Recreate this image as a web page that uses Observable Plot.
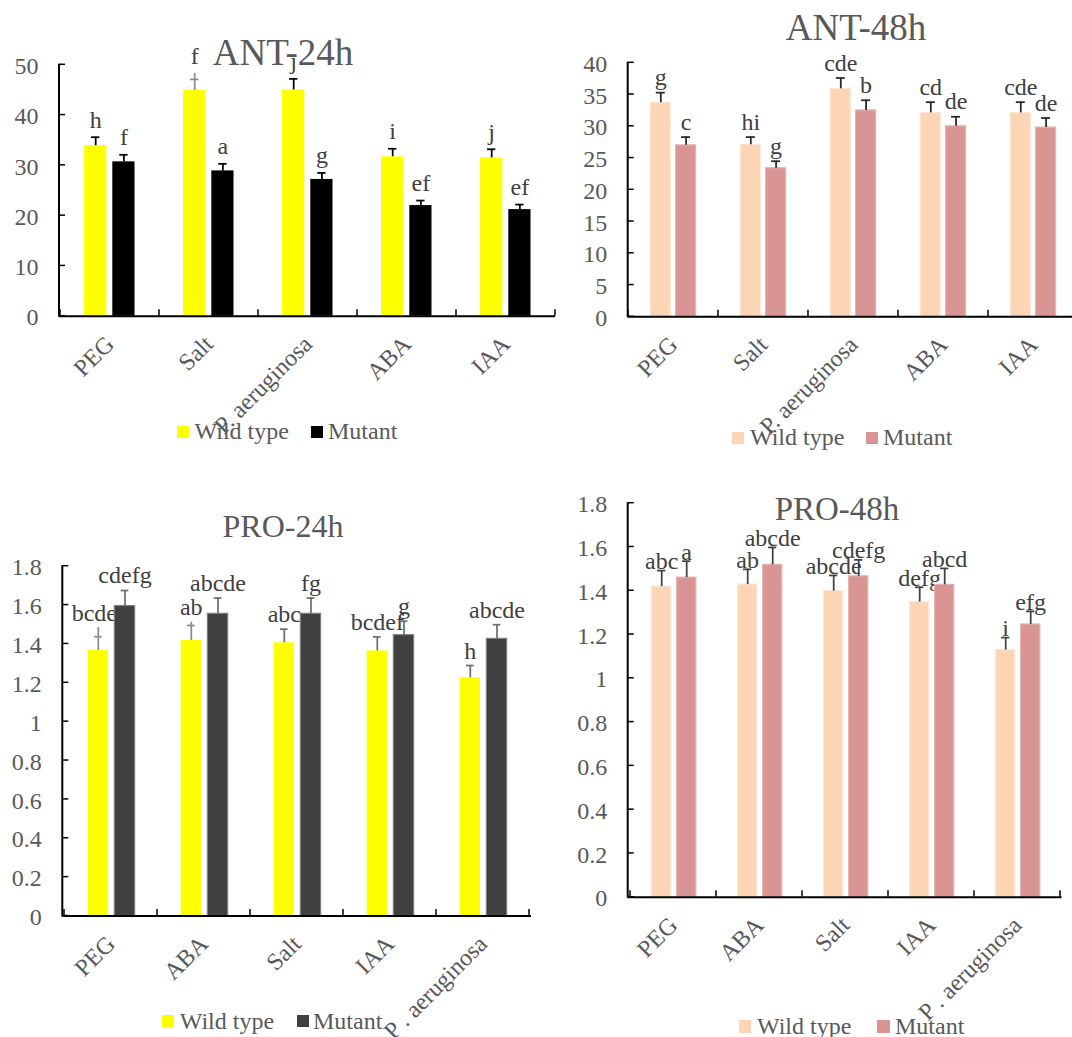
<!DOCTYPE html>
<html>
<head>
<meta charset="utf-8">
<script src="https://cdn.jsdelivr.net/npm/d3@7"></script>
<script src="https://cdn.jsdelivr.net/npm/@observablehq/plot@0.6"></script>
<style>
html, body { margin: 0; padding: 0; background: #fff; }
#page { position: relative; width: 1072px; height: 1037px; overflow: hidden; background: #fff;
  font-family: "Liberation Serif", "Times New Roman", serif; color: #595959; }
.wrap { position: absolute; }
.title { position: absolute; white-space: nowrap; line-height: 1; transform: translateX(-50%); color: #595959; }
.lg { position: absolute; white-space: nowrap; line-height: 1; font-size: 24px; color: #595959; }
.sw { position: absolute; }
</style>
</head>
<body>
<div id="page"></div>
<script>
// ---------------- DATA ----------------
const ant24Categories = ["PEG", "Salt", "P. aeruginosa", "ABA", "IAA"];
const ant24WildType = [33.9, 44.9, 45.0, 31.7, 31.5];
const ant24WildTypeErr = [1.7, 2.2, 2.2, 1.6, 1.7];
const ant24WildTypeStem = [null, 48.3, null, null, null];
const ant24WildTypeLetters = ["h", "f", "j", "i", "j"];
const ant24Mutant = [30.7, 28.9, 27.2, 22.0, 21.2];
const ant24MutantErr = [1.4, 1.4, 1.3, 1.0, 1.0];
const ant24MutantLetters = ["f", "a", "g", "ef", "ef"];
const ant24Ticks = [0, 10, 20, 30, 40, 50];

const ant48Categories = ["PEG", "Salt", "P. aeruginosa", "ABA", "IAA"];
const ant48WildType = [33.7, 27.1, 35.9, 32.1, 32.1];
const ant48WildTypeErr = [1.6, 1.2, 1.7, 1.7, 1.7];
const ant48WildTypeStem = [null, null, null, null, null];
const ant48WildTypeLetters = ["g", "hi", "cde", "cd", "cde"];
const ant48Mutant = [27.0, 23.4, 32.5, 30.0, 29.8];
const ant48MutantErr = [1.3, 1.1, 1.6, 1.5, 1.5];
const ant48MutantLetters = ["c", "g", "b", "de", "de"];
const ant48Ticks = [0, 5, 10, 15, 20, 25, 30, 35, 40];

const pro24Categories = ["PEG", "ABA", "Salt", "IAA", "P . aeruginosa"];
const pro24WildType = [1.367, 1.418, 1.406, 1.364, 1.226];
const pro24WildTypeErr = [0.07, 0.077, 0.07, 0.072, 0.063];
const pro24WildTypeStem = [1.484, 1.512, null, null, null];
const pro24WildTypeLetters = ["bcdef", "ab", "abc", "bcdef", "h"];
const pro24Mutant = [1.595, 1.555, 1.555, 1.445, 1.426];
const pro24MutantErr = [0.08, 0.081, 0.081, 0.072, 0.073];
const pro24MutantLetters = ["cdefg", "abcde", "fg", "g", "abcde"];
const pro24Ticks = [0, 0.2, 0.4, 0.6, 0.8, 1, 1.2, 1.4, 1.6, 1.8];

const pro48Categories = ["PEG", "ABA", "Salt", "IAA", "P . aeruginosa"];
const pro48WildType = [1.419, 1.428, 1.398, 1.348, 1.129];
const pro48WildTypeErr = [0.073, 0.07, 0.072, 0.068, 0.057];
const pro48WildTypeStem = [null, null, null, null, null];
const pro48WildTypeLetters = ["abc", "ab", "abcde", "defg", "i"];
const pro48Mutant = [1.46, 1.518, 1.466, 1.427, 1.246];
const pro48MutantErr = [0.075, 0.08, 0.075, 0.075, 0.06];
const pro48MutantLetters = ["a", "abcde", "cdefg", "abcd", "efg"];
const pro48Ticks = [0, 0.2, 0.4, 0.6, 0.8, 1, 1.2, 1.4, 1.6, 1.8];

const seriesNames = ["Wild type", "Mutant"];

// ---------------- PANELS ----------------
const FONT = '"Liberation Serif", "Times New Roman", serif';
const TICK_FS = 24;
const LETTER_FS = 24;

const panels = [
  {
    title: "ANT-24h", categories: ant24Categories, ticks: ant24Ticks,
    wt: ant24WildType, wtErr: ant24WildTypeErr, wtStem: ant24WildTypeStem, wtLetters: ant24WildTypeLetters,
    mut: ant24Mutant, mutErr: ant24MutantErr, mutLetters: ant24MutantLetters,
    colors: { wt: "#FFFF00", mut: "#000000", wtStroke: "none", mutStroke: "none", err: "#000000", plus: "#8c8c8c" },
    L: { left: 0, top: 0, width: 557, height: 460, ml: 59, mr: 2, mt: 64.3, mb: 144.3,
         barW: 22.4, offWT: -14.3, offMut: 13.9, capW: 8.5, labelDy: -9.5, xPad: 24,
         titleX: 283, titleBase: 64.5, titleSize: 37,
         legend: { sw1: 177, sw2: 311, t1: 194.6, t2: 328, swTop: 426, swSize: 12, base: 439 } }
  },
  {
    title: "ANT-48h", categories: ant48Categories, ticks: ant48Ticks,
    wt: ant48WildType, wtErr: ant48WildTypeErr, wtStem: ant48WildTypeStem, wtLetters: ant48WildTypeLetters,
    mut: ant48Mutant, mutErr: ant48MutantErr, mutLetters: ant48MutantLetters,
    colors: { wt: "#FCD5B5", mut: "#D99594", wtStroke: "#FDE6D4", mutStroke: "#E5B3B2", err: "#262626", plus: "#8c8c8c" },
    L: { left: 560, top: 0, width: 519.7, height: 460, ml: 67.7, mr: 2, mt: 62.3, mb: 143.7,
         barW: 20, offWT: -12.7, offMut: 12.6, capW: 9, labelDy: -7.5, xPad: 24,
         titleX: 856, titleBase: 39.5, titleSize: 37,
         legend: { sw1: 732, sw2: 866, t1: 750, t2: 883, swTop: 432, swSize: 11.5, base: 445 } }
  },
  {
    title: "PRO-24h", categories: pro24Categories, ticks: pro24Ticks,
    wt: pro24WildType, wtErr: pro24WildTypeErr, wtStem: pro24WildTypeStem, wtLetters: pro24WildTypeLetters,
    mut: pro24Mutant, mutErr: pro24MutantErr, mutLetters: pro24MutantLetters,
    colors: { wt: "#FFFF00", mut: "#404040", wtStroke: "none", mutStroke: "#7f7f7f", err: "#6f6f6f", plus: "#8c8c8c" },
    L: { left: 0, top: 480, width: 533, height: 557, ml: 62.3, mr: 2, mt: 85.7, mb: 121.5,
         barW: 21, offWT: -12.7, offMut: 14.0, capW: 8.5, labelDy: -7, xPad: 24,
         titleX: 283, titleBase: 536.4, titleSize: 32,
         legend: { sw1: 161.5, sw2: 296.6, t1: 179.7, t2: 313, swTop: 1015, swSize: 12, base: 1029 } }
  },
  {
    title: "PRO-48h", categories: pro48Categories, ticks: pro48Ticks,
    wt: pro48WildType, wtErr: pro48WildTypeErr, wtStem: pro48WildTypeStem, wtLetters: pro48WildTypeLetters,
    mut: pro48Mutant, mutErr: pro48MutantErr, mutLetters: pro48MutantLetters,
    colors: { wt: "#FCD5B5", mut: "#D99594", wtStroke: "#FDE6D4", mutStroke: "#E5B3B2", err: "#404040", plus: "#8c8c8c" },
    L: { left: 560, top: 480, width: 503.5, height: 557, ml: 67.7, mr: 2, mt: 22.7, mb: 140.3,
         barW: 20, offWT: -11.8, offMut: 13.2, capW: 9, labelDy: -1.5, xPad: 24,
         titleX: 837, titleBase: 521, titleSize: 33,
         legend: { sw1: 738.5, sw2: 877, t1: 757, t2: 895, swTop: 1020, swSize: 12.5, base: 1034 } }
  }
];

// custom axis frame drawn from the library scales
function axisFrame(categories, ticks) {
  return (index, scales, values, dimensions) => {
    const { x, y } = scales;
    const x0 = dimensions.marginLeft;
    const y0 = y(0);
    const g = d3.create("svg:g").attr("stroke", "#000").attr("fill", "none");
    g.append("line").attr("x1", x0).attr("x2", x0)
      .attr("y1", y0 + 1).attr("y2", y(ticks[ticks.length - 1]) - 0.5).attr("stroke-width", 2);
    for (const t of ticks) {
      g.append("line").attr("x1", x0).attr("x2", x0 + 6).attr("y1", y(t)).attr("y2", y(t)).attr("stroke-width", 1.5);
    }
    const edges = categories.map(c => x(c));
    edges.push(x(categories[categories.length - 1]) + x.bandwidth());
    for (const e of edges) {
      g.append("line").attr("x1", e).attr("x2", e).attr("y1", y0).attr("y2", y0 - 6.5).attr("stroke-width", 1.5);
    }
    return g.node();
  };
}

const page = document.getElementById("page");

for (const P of panels) {
  const L = P.L;
  const bw = (L.width - L.ml - L.mr) / P.categories.length;
  const c = bw / 2;
  const ins = (off, w) => ({ insetLeft: c + off - w / 2, insetRight: bw - (c + off + w / 2) });

  const wtRows = P.categories.map((cat, i) => ({ cat, value: P.wt[i], err: P.wtErr[i], stem: P.wtStem[i], letter: P.wtLetters[i] }));
  const mutRows = P.categories.map((cat, i) => ({ cat, value: P.mut[i], err: P.mutErr[i], stem: null, letter: P.mutLetters[i] }));

  function seriesMarks(rows, fill, stroke, off) {
    return [
      Plot.barY(rows, { x: "cat", y: "value", fill, stroke, strokeWidth: stroke === "none" ? 0 : 1.2, ...ins(off, L.barW) }),
      Plot.ruleX(rows, { filter: d => d.stem == null, x: "cat", y1: "value", y2: d => d.value + d.err, dx: off, stroke: P.colors.err, strokeWidth: 1.75 }),
      Plot.tickY(rows, { filter: d => d.stem == null, x: "cat", y: d => d.value + d.err, stroke: P.colors.err, strokeWidth: 1.75, ...ins(off, L.capW) }),
      Plot.ruleX(rows, { filter: d => d.stem != null, x: "cat", y1: "value", y2: "stem", dx: off, stroke: P.colors.plus, strokeWidth: 1.75 }),
      Plot.tickY(rows, { filter: d => d.stem != null, x: "cat", y: d => d.value + d.err, stroke: P.colors.plus, strokeWidth: 1.75, ...ins(off, L.capW) }),
      Plot.text(rows, { x: "cat", y: d => d.stem != null ? d.stem : d.value + d.err, text: "letter", dx: off, dy: L.labelDy,
        lineAnchor: "bottom", textAnchor: "middle", fontSize: LETTER_FS, fill: "#404040", fontFamily: FONT })
    ];
  }

  const chart = Plot.plot({
    width: L.width, height: L.height,
    marginLeft: L.ml, marginRight: L.mr, marginTop: L.mt, marginBottom: L.mb,
    style: { background: "transparent", overflow: "visible", fontFamily: FONT, maxWidth: "none" },
    x: { type: "band", domain: P.categories, padding: 0, align: 0.5 },
    y: { domain: [0, P.ticks[P.ticks.length - 1]], nice: false },
    marks: [
      ...seriesMarks(wtRows, P.colors.wt, P.colors.wtStroke, L.offWT),
      ...seriesMarks(mutRows, P.colors.mut, P.colors.mutStroke, L.offMut),
      Plot.ruleY([0], { stroke: "#000", strokeWidth: 2 }),
      axisFrame(P.categories, P.ticks),
      Plot.axisY({ ticks: P.ticks, tickSize: 0, tickPadding: 21, fontSize: TICK_FS, fill: "#595959", label: null, dy: 1.5, tickFormat: d => String(d), fontFamily: FONT }),
      Plot.axisX({ tickSize: 0, tickPadding: L.xPad, tickRotate: -45, fontSize: TICK_FS, fill: "#595959", label: null, fontFamily: FONT })
    ]
  });

  const wrap = document.createElement("div");
  wrap.className = "wrap";
  wrap.style.left = L.left + "px";
  wrap.style.top = L.top + "px";
  wrap.style.width = L.width + "px";
  wrap.appendChild(chart);
  page.appendChild(wrap);

  const t = document.createElement("div");
  t.className = "title";
  t.textContent = P.title;
  t.style.fontSize = L.titleSize + "px";
  t.style.left = L.titleX + "px";
  t.style.top = (L.titleBase - 0.8375 * L.titleSize) + "px";
  page.appendChild(t);

  const lg = L.legend;
  [[lg.sw1, lg.t1, P.colors.wt, seriesNames[0]], [lg.sw2, lg.t2, P.colors.mut, seriesNames[1]]].forEach(([sx, tx, col, name]) => {
    const s = document.createElement("div");
    s.className = "sw";
    s.style.left = sx + "px";
    s.style.top = lg.swTop + "px";
    s.style.width = lg.swSize + "px";
    s.style.height = lg.swSize + "px";
    s.style.background = col;
    page.appendChild(s);
    const tt = document.createElement("div");
    tt.className = "lg";
    tt.textContent = name;
    tt.style.left = tx + "px";
    tt.style.top = (lg.base - 0.8375 * 24) + "px";
    page.appendChild(tt);
  });
}
</script>
</body>
</html>
